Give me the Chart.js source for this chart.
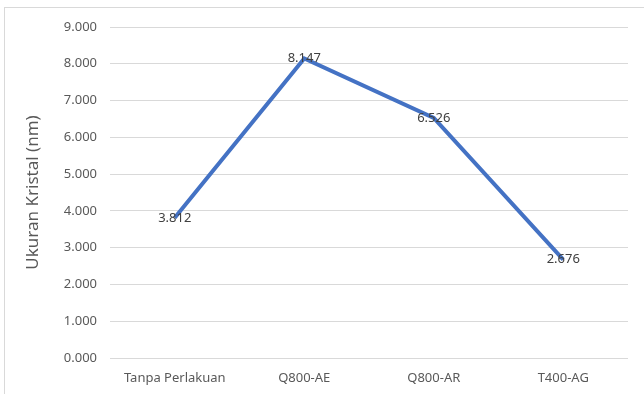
<!DOCTYPE html>
<html>
<head>
<meta charset="utf-8">
<script src="https://cdn.jsdelivr.net/npm/chart.js@4"></script>
<style>
  html, body { margin: 0; padding: 0; background: #fff; overflow: hidden; }
  #wrap { position: relative; width: 644px; height: 394px; }
  #frame { position: absolute; left: 4px; top: 7px; width: 700px; height: 500px; border: 1px solid #d9d9d9; }
  canvas { position: absolute; left: 0; top: 0; }
</style>
</head>
<body>
<div id="wrap">
  <div id="frame"></div>
  <canvas id="myChart" width="644" height="394"></canvas>
</div>
<script>
let categories = ["Tanpa Perlakuan", "Q800-AE", "Q800-AR", "T400-AG"];
let crystalSize = [3.812, 8.147, 6.526, 2.676];
let yTicks = [0, 1, 2, 3, 4, 5, 6, 7, 8, 9];

let fmt = (v) => v.toFixed(3);
let fontFamily = "'Noto Sans', 'Open Sans', sans-serif";

// draws the value centred on each point, like the Excel data labels
let valueLabels = {
  id: "valueLabels",
  afterDatasetsDraw(chart) {
    let c = chart.ctx;
    let meta = chart.getDatasetMeta(0);
    c.save();
    c.font = "13px " + fontFamily;
    c.fillStyle = "#404040";
    c.textAlign = "center";
    c.textBaseline = "middle";
    meta.data.forEach((pt, i) => {
      c.fillText(fmt(crystalSize[i]), pt.x, pt.y);
    });
    c.restore();
  },
};

let ctx = document.getElementById("myChart").getContext("2d");
let myChart = new Chart(ctx, {
  type: "line",
  data: {
    labels: categories,
    datasets: [
      {
        data: crystalSize,
        borderColor: "#4472C4",
        borderWidth: 4,
        pointRadius: 0,
        tension: 0,
        fill: false,
      },
    ],
  },
  options: {
    responsive: false,
    animation: false,
    layout: { padding: { top: 27, right: 16, bottom: 0, left: 0 } },
    plugins: { legend: { display: false }, tooltip: { enabled: false } },
    scales: {
      x: {
        offset: true,
        grid: { display: false, drawTicks: false },
        border: { display: false },
        ticks: { color: "#595959", font: { size: 13, family: fontFamily }, padding: 12, maxRotation: 0 },
        afterFit: (scale) => { scale.height = 36; },
      },
      y: {
        min: 0,
        max: 9,
        afterBuildTicks: (scale) => { scale.ticks = yTicks.map((v) => ({ value: v })); },
        grid: { color: "#d9d9d9", lineWidth: 1, drawTicks: false },
        border: { display: false },
        ticks: { color: "#595959", font: { size: 13, family: fontFamily }, padding: 13, callback: (v) => fmt(v) },
        title: {
          display: true,
          text: "Ukuran Kristal (nm)",
          color: "#595959",
          font: { size: 17, family: fontFamily },
          padding: { top: 23, bottom: 0 },
        },
        afterFit: (scale) => { scale.width = 110; },
      },
    },
  },
  plugins: [valueLabels],
});
</script>
</body>
</html>
